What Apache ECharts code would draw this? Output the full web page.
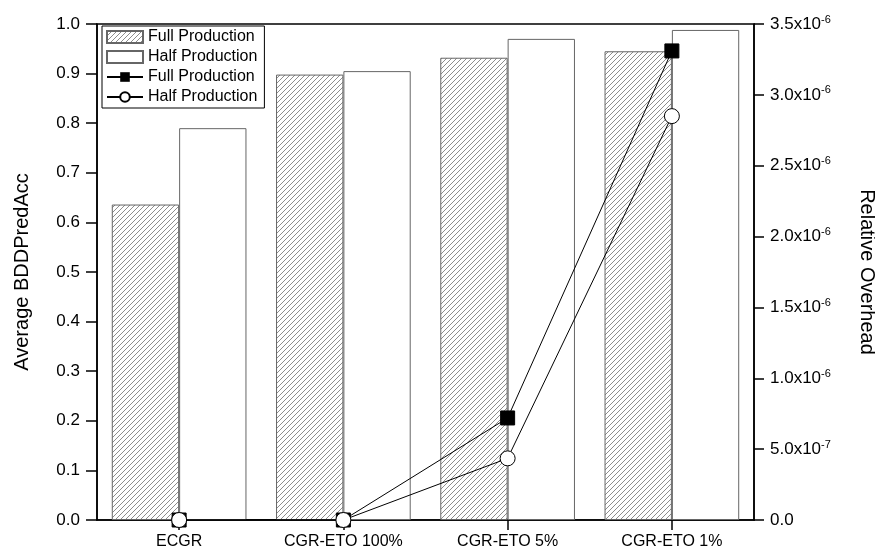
<!DOCTYPE html>
<html>
<head>
<meta charset="utf-8">
<script src="https://cdn.jsdelivr.net/npm/echarts@6/dist/echarts.min.js"></script>
<style>
html,body{margin:0;padding:0;background:#fff;}
#chart{width:875px;height:555px;}
</style>
</head>
<body>
<div id="chart"></div>
<script>
// ---- data ----
const categories = ['ECGR', 'CGR-ETO 100%', 'CGR-ETO 5%', 'CGR-ETO 1%'];
const barFull = [0.636, 0.898, 0.932, 0.945];
const barHalf = [0.790, 0.905, 0.970, 0.988];
const lineFull = [0, 0, 7.2e-7, 3.31e-6];
const lineHalf = [0, 0, 4.35e-7, 2.85e-6];

// hatch pattern
function makeHatch() {
  const s = 5;
  const c = document.createElement('canvas');
  c.width = s; c.height = s;
  const g = c.getContext('2d');
  g.fillStyle = '#fff';
  g.fillRect(0, 0, s, s);
  g.strokeStyle = '#707070';
  g.lineWidth = 0.8;
  g.beginPath();
  g.moveTo(0, s); g.lineTo(s, 0);
  g.moveTo(-1, 1); g.lineTo(1, -1);
  g.moveTo(s - 1, s + 1); g.lineTo(s + 1, s - 1);
  g.stroke();
  return c;
}
const hatch = { image: makeHatch(), repeat: 'repeat' };

const chart = echarts.init(document.getElementById('chart'), null, { renderer: 'canvas' });
const font = 'Liberation Sans, Arial, sans-serif';

function rightFmt(v) {
  if (Math.abs(v) < 1e-15) return '0.0';
  const e = v.toExponential(1);
  const parts = e.split('e');
  return '{m|' + parts[0] + 'x10}{s|' + parts[1].replace('+', '') + '}';
}

const option = {
  animation: false,
  backgroundColor: '#fff',
  grid: {
    left: 97, right: 121, top: 24, bottom: 35,
    containLabel: false, outerBoundsMode: 'none',
    show: true, borderColor: '#000', borderWidth: 1.5, backgroundColor: 'transparent'
  },
  legend: {
    left: 102, top: 26,
    orient: 'vertical',
    backgroundColor: '#fff',
    borderColor: '#000', borderWidth: 1,
    padding: [3, 7, 3, 4],
    itemGap: 4,
    itemWidth: 36, itemHeight: 12,
    textStyle: { fontFamily: font, fontSize: 16, color: '#000' },
    formatter: n => n.trim(),
    data: [
      { name: 'Full Production', icon: 'rect' },
      { name: 'Half Production', icon: 'rect' },
      { name: 'Full Production ' },
      { name: 'Half Production ' }
    ]
  },
  xAxis: {
    type: 'category',
    data: categories,
    boundaryGap: true,
    splitLine: { show: false },
    axisLine: { show: true, lineStyle: { color: '#000', width: 1.5 } },
    axisTick: { show: true, length: 10, inside: false, alignWithLabel: true, lineStyle: { color: '#000', width: 1.5 } },
    axisLabel: { fontFamily: font, fontSize: 16, color: '#000', margin: 14, interval: 0 }
  },
  yAxis: [
    {
      type: 'value', min: 0, max: 1, interval: 0.1,
      name: 'Average BDDPredAcc', nameLocation: 'middle', nameGap: 65,
      nameTextStyle: { fontFamily: font, fontSize: 20, color: '#000' },
      splitLine: { show: false },
      axisLine: { show: true, lineStyle: { color: '#000', width: 1.5 } },
      axisTick: { show: true, length: 11, lineStyle: { color: '#000', width: 1.5 } },
      axisLabel: { formatter: v => v.toFixed(1), fontFamily: font, fontSize: 17, color: '#000', margin: 17 }
    },
    {
      type: 'value', min: 0, max: 3.5e-6, interval: 5e-7,
      position: 'right',
      name: 'Relative Overhead', nameLocation: 'middle', nameGap: 103, nameRotate: -90,
      nameTextStyle: { fontFamily: font, fontSize: 20, color: '#000' },
      splitLine: { show: false },
      axisLine: { show: true, lineStyle: { color: '#000', width: 1.5 } },
      axisTick: { show: true, length: 10, lineStyle: { color: '#000', width: 1.5 } },
      axisLabel: {
        formatter: rightFmt, margin: 16,
        fontFamily: font, fontSize: 17, color: '#000',
        rich: {
          m: { fontFamily: font, fontSize: 17, color: '#000' },
          s: { fontFamily: font, fontSize: 11, color: '#000', verticalAlign: 'top', padding: [0, 0, 9, 0] }
        }
      }
    }
  ],
  series: [
    {
      name: 'Full Production', type: 'bar', yAxisIndex: 0,
      barWidth: '41%', barGap: '0%',
      itemStyle: { color: hatch, borderColor: '#666', borderWidth: 1 },
      data: barFull, z: 1
    },
    {
      name: 'Half Production', type: 'bar', yAxisIndex: 0,
      barWidth: '41%', barGap: '0%',
      itemStyle: { color: '#fff', borderColor: '#666', borderWidth: 1 },
      data: barHalf, z: 1
    },
    {
      name: 'Full Production ', type: 'line', yAxisIndex: 1,
      symbol: 'rect', symbolSize: 14,
      lineStyle: { color: '#000', width: 1 },
      itemStyle: { color: '#000', borderColor: '#000' },
      data: lineFull, z: 3
    },
    {
      name: 'Half Production ', type: 'line', yAxisIndex: 1,
      symbol: 'circle', symbolSize: 15,
      lineStyle: { color: '#000', width: 1 },
      itemStyle: { color: '#fff', borderColor: '#000', borderWidth: 1 },
      data: lineHalf, z: 4
    }
  ]
};
chart.setOption(option);
</script>
</body>
</html>
